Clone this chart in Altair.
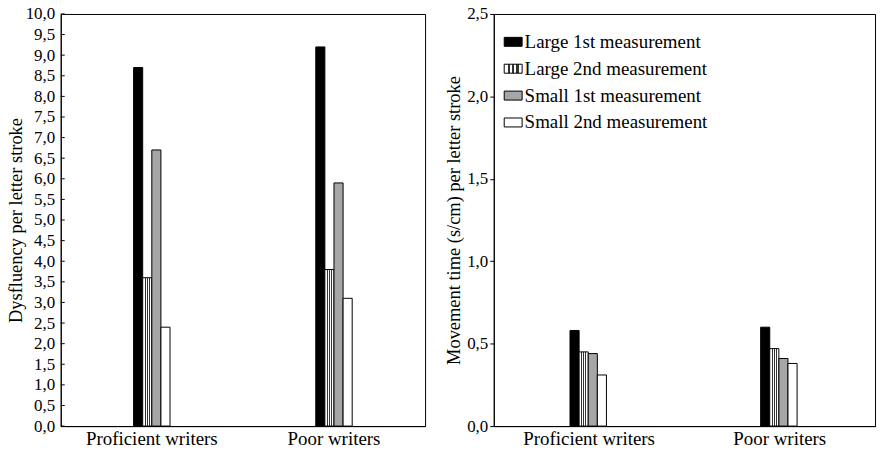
import altair as alt
import pandas as pd

groups = ["Proficient writers", "Poor writers"]
series = ["Large 1st measurement", "Large 2nd measurement",
          "Small 1st measurement", "Small 2nd measurement"]
dysfluency_proficient = [8.7, 3.6, 6.7, 2.4]
dysfluency_poor = [9.2, 3.8, 5.9, 3.1]
movement_proficient = [0.58, 0.45, 0.44, 0.31]
movement_poor = [0.60, 0.47, 0.41, 0.38]
dys_ticks = [0.0, 0.5, 1.0, 1.5, 2.0, 2.5, 3.0, 3.5, 4.0, 4.5, 5.0,
             5.5, 6.0, 6.5, 7.0, 7.5, 8.0, 8.5, 9.0, 9.5, 10.0]
mov_ticks = [0.0, 0.5, 1.0, 1.5, 2.0, 2.5]

FONT = "Liberation Serif"


def frame(pro, poor):
    rows = []
    for g, vals in zip(groups, [pro, poor]):
        for s, v in zip(series, vals):
            rows.append({"group": g, "series": s, "value": v})
    return pd.DataFrame(rows)


stripes = ("{gradient: 'linear', x1: 0, y1: 0, x2: 1, y2: 0, stops: ["
           "{offset: 0, color: 'white'}, {offset: 0.2, color: 'white'},"
           "{offset: 0.2, color: '#333'}, {offset: 0.32, color: '#333'},"
           "{offset: 0.32, color: 'white'}, {offset: 0.44, color: 'white'},"
           "{offset: 0.44, color: '#333'}, {offset: 0.56, color: '#333'},"
           "{offset: 0.56, color: 'white'}, {offset: 0.68, color: 'white'},"
           "{offset: 0.68, color: '#333'}, {offset: 0.8, color: '#333'},"
           "{offset: 0.8, color: 'white'}, {offset: 1, color: 'white'}]}")

fill_range = ["black", {"expr": stripes}, "#a6a6a6", "white"]

label_expr = "replace(format(datum.value, '.1f'), '.', ',')"


def y_axis(ticks, title, inward):
    return alt.Axis(values=ticks, labelExpr=label_expr, grid=False,
                    ticks=not inward, tickSize=4,
                    labelPadding=6 if inward else 2,
                    title=title, titlePadding=0 if inward else 3)


def bars(df, ymax, yaxis, width, legend):
    return alt.Chart(df).mark_bar(stroke="black", strokeWidth=1).encode(
        x=alt.X("group:N", sort=groups,
                scale=alt.Scale(paddingInner=0.8, paddingOuter=0.4),
                axis=alt.Axis(title=None, labelAngle=0, ticks=False,
                              labelPadding=3, labelFontSize=19)),
        xOffset=alt.XOffset("series:N", sort=series,
                            scale=alt.Scale(paddingInner=0, paddingOuter=0)),
        y=alt.Y("value:Q", scale=alt.Scale(domain=[0, ymax], nice=False),
                axis=yaxis),
        fill=alt.Fill("series:N", sort=series,
                      scale=alt.Scale(domain=series, range=fill_range),
                      legend=legend),
    ).properties(width=width, height=414)


legend = alt.Legend(title=None, orient="none", legendX=10, legendY=18.5,
                    symbolType="M-1,-0.5H1V0.5H-1Z", symbolSize=324,
                    symbolStrokeColor="black", symbolStrokeWidth=1,
                    labelFont=FONT, labelFontSize=19, labelColor="black",
                    labelLimit=400, rowPadding=7, padding=0, labelOffset=2)

left_axis = y_axis(dys_ticks, "Dysfluency per letter stroke", True)
left_bars = bars(frame(dysfluency_proficient, dysfluency_poor), 10,
                 left_axis, 366, None)
left_ticks = alt.Chart(pd.DataFrame({"value": dys_ticks})).mark_rule(
    color="black", strokeWidth=1
).encode(
    y=alt.Y("value:Q", scale=alt.Scale(domain=[0, 10], nice=False),
            axis=left_axis),
    x=alt.value(0), x2=alt.value(4),
)
left = alt.layer(left_bars, left_ticks).properties(width=366, height=414)

right = bars(frame(movement_proficient, movement_poor), 2.5,
             y_axis(mov_ticks, "Movement time (s/cm) per letter stroke", False),
             383, legend)

chart = alt.hconcat(left, right, spacing=18).resolve_scale(
    fill="independent"
).properties(
    padding={"left": 5, "top": 3, "right": 5, "bottom": 0},
    background="white",
).configure_view(
    stroke="black", strokeWidth=1
).configure_axis(
    labelFont=FONT, titleFont=FONT, labelFontSize=17, titleFontSize=18.5,
    labelColor="black", titleColor="black", titleFontWeight="normal",
    domainColor="black", tickColor="black"
)

chart.save("out.html", embed_options={"renderer": "svg", "actions": False})
